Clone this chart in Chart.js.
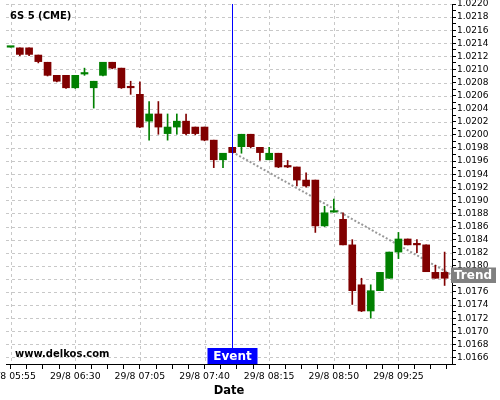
<!DOCTYPE html>
<html>
<head>
<meta charset="utf-8">
<script src="https://cdn.jsdelivr.net/npm/chart.js@4/dist/chart.umd.min.js"></script>
<style>
  html, body { margin: 0; padding: 0; background: #fff; overflow: hidden; }
  #wrap { position: absolute; left: -30px; top: -10px; width: 530px; height: 410px; }
</style>
</head>
<body>
<div id="wrap"><canvas id="candleChart"></canvas></div>
<script>
// 5 minute bars, 29/8
const times = ['05:55', '06:00', '06:05', '06:10', '06:15', '06:20', '06:25', '06:30',
  '06:35', '06:40', '06:45', '06:50', '06:55', '07:00', '07:05', '07:10',
  '07:15', '07:20', '07:25', '07:30', '07:35', '07:40', '07:45', '07:50',
  '07:55', '08:00', '08:05', '08:10', '08:15', '08:20', '08:25', '08:30',
  '08:35', '08:40', '08:45', '08:50', '08:55', '09:00', '09:05', '09:10',
  '09:15', '09:20', '09:25', '09:30', '09:35', '09:40', '09:45', '09:50'];

const opens = [1.02135, 1.02134, 1.02134, 1.02123, 1.02112, 1.02092, 1.02092, 1.02073,
  1.02094, 1.02073, 1.02092, 1.02112, 1.02103, 1.02074, 1.02063, 1.02022,
  1.02033, 1.02003, 1.02013, 1.02022, 1.02013, 1.02013, 1.01993, 1.01963,
  1.01982, 1.01983, 1.02002, 1.01982, 1.01963, 1.01973, 1.01953, 1.01952,
  1.01932, 1.01932, 1.01862, 1.01883, 1.01872, 1.01833, 1.01772, 1.01732,
  1.01763, 1.01782, 1.01822, 1.01842, 1.01834, 1.01833, 1.01791, 1.01791];
const highs = [1.02136, 1.02134, 1.02134, 1.02123, 1.02112, 1.02092, 1.02092, 1.02092,
  1.02103, 1.02083, 1.02112, 1.02112, 1.02103, 1.02083, 1.02082, 1.02052,
  1.02052, 1.02033, 1.02033, 1.02033, 1.02013, 1.02013, 1.01993, 1.01973,
  1.01982, 1.02002, 1.02002, 1.01982, 1.01982, 1.01973, 1.01962, 1.01952,
  1.01943, 1.01932, 1.01892, 1.01903, 1.01882, 1.01841, 1.01782, 1.01772,
  1.01791, 1.01822, 1.01852, 1.01842, 1.01841, 1.01833, 1.01802, 1.01822];
const lows = [1.02135, 1.02122, 1.02122, 1.02111, 1.02091, 1.02082, 1.02072, 1.02072,
  1.02092, 1.02042, 1.02091, 1.02102, 1.02072, 1.02063, 1.02012, 1.01993,
  1.02002, 1.01993, 1.02002, 1.02001, 1.02001, 1.01992, 1.01951, 1.01951,
  1.01974, 1.01973, 1.01981, 1.01962, 1.01963, 1.01951, 1.01951, 1.01923,
  1.01921, 1.01852, 1.01861, 1.01883, 1.01833, 1.01742, 1.01731, 1.01721,
  1.01763, 1.01782, 1.01812, 1.01833, 1.01821, 1.01792, 1.01782, 1.01771];
const closes = [1.02136, 1.02124, 1.02124, 1.02113, 1.02092, 1.02083, 1.02073, 1.02092,
  1.02095, 1.02083, 1.02112, 1.02103, 1.02073, 1.02073, 1.02013, 1.02033,
  1.02013, 1.02013, 1.02022, 1.02003, 1.02003, 1.01993, 1.01963, 1.01973,
  1.01974, 1.02002, 1.01983, 1.01974, 1.01973, 1.01952, 1.01952, 1.01932,
  1.01923, 1.01862, 1.01882, 1.01884, 1.01833, 1.01763, 1.01732, 1.01763,
  1.01791, 1.01822, 1.01842, 1.01833, 1.01833, 1.01792, 1.01782, 1.01782];

// event marker and trend line (bar index units)
const eventIndex = 24;
const trendX = [24, 47.8];
const trendY = [1.01975, 1.01787];

const UP = '#008000';
const DOWN = '#800000';
const GRID = '#c8c8c8';
const FONT = 'DejaVu Sans';

const candleColors = opens.map((o, i) => closes[i] >= o ? UP : DOWN);
const bodies = opens.map((o, i) => ({ x: i, y: [o, closes[i]] }));
const wicks = opens.map((o, i) => ({ x: i, y: [lows[i], highs[i]] }));
const trend = trendX.map((x, i) => ({ x: x, y: trendY[i] }));

const isMajorX = (v) => Math.abs(v % 7) < 1e-6;
const isMajorY = (v) => Math.round(v * 10000) % 2 === 0;

const overlay = {
  id: 'overlay',
  beforeDatasetsDraw(chart) {
    // dashed grid at the labelled ticks only
    const { ctx, chartArea: a, scales: { x, y } } = chart;
    ctx.save();
    ctx.strokeStyle = GRID;
    ctx.lineWidth = 1;
    ctx.setLineDash([3, 3]);
    ctx.beginPath();
    x.ticks.forEach(t => {
      if (!isMajorX(t.value)) return;
      const px = Math.round(x.getPixelForValue(t.value)) + 0.5;
      ctx.moveTo(px, a.top);
      ctx.lineTo(px, a.bottom);
    });
    y.ticks.forEach(t => {
      if (!isMajorY(t.value)) return;
      const py = Math.round(y.getPixelForValue(t.value)) + 0.5;
      ctx.moveTo(a.left, py);
      ctx.lineTo(a.right, py);
    });
    ctx.stroke();
    ctx.restore();
  },
  afterDatasetsDraw(chart) {
    const { ctx, chartArea, scales: { x } } = chart;
    const ex = Math.round(x.getPixelForValue(eventIndex)) + 0.5;
    ctx.save();
    ctx.strokeStyle = '#0000ff';
    ctx.lineWidth = 1;
    ctx.beginPath();
    ctx.moveTo(ex, chartArea.top);
    ctx.lineTo(ex, chartArea.bottom);
    ctx.stroke();
    ctx.restore();
  },
  afterDraw(chart) {
    const { ctx, chartArea, scales: { x, y } } = chart;
    ctx.save();
    ctx.fillStyle = '#000';
    ctx.textBaseline = 'alphabetic';
    ctx.font = 'bold 10px "' + FONT + '"';
    ctx.fillText('6S 5 (CME)', chartArea.left + 4, chartArea.top + 15);
    ctx.fillText('www.delkos.com', chartArea.left + 9, chartArea.bottom - 7);

    // Event box on the bottom axis
    const ex = Math.round(x.getPixelForValue(eventIndex)) + 0.5;
    ctx.fillStyle = '#0000ff';
    ctx.fillRect(ex - 25, chartArea.bottom - 16, 50, 16);
    ctx.fillStyle = '#fff';
    ctx.font = 'bold 12px "' + FONT + '"';
    ctx.textAlign = 'center';
    ctx.textBaseline = 'middle';
    ctx.fillText('Event', ex, chartArea.bottom - 7.5);

    // Trend box on the price axis
    const ty = y.getPixelForValue(trendY[trendY.length - 1]);
    ctx.fillStyle = '#808080';
    ctx.fillRect(chartArea.right - 1, ty - 7.5, 45, 15.5);
    ctx.fillStyle = '#fff';
    ctx.textAlign = 'left';
    ctx.fillText('Trend', chartArea.right + 2, ty + 0.5);
    ctx.restore();
  }
};

const ctx = document.getElementById('candleChart').getContext('2d');
const candleChart = new Chart(ctx, {
  type: 'bar',
  data: {
    datasets: [
      {
        type: 'line',
        data: trend,
        borderColor: '#999999',
        borderWidth: 2,
        borderDash: [2, 2],
        pointRadius: 0,
        order: 3
      },
      {
        data: wicks,
        backgroundColor: candleColors,
        barThickness: 1,
        grouped: false,
        order: 2
      },
      {
        data: bodies,
        backgroundColor: candleColors,
        barThickness: 7,
        minBarLength: 1.5,
        grouped: false,
        order: 1
      }
    ]
  },
  options: {
    responsive: true,
    maintainAspectRatio: false,
    animation: false,
    layout: { padding: { left: 36, top: 14, right: 0, bottom: 0 } },
    plugins: { legend: { display: false }, tooltip: { enabled: false } },
    scales: {
      x: {
        type: 'linear',
        offset: false,
        min: -0.5,
        max: 47.8,
        afterFit(scale) { scale.height = 36; },
        ticks: {
          stepSize: 1.75,
          autoSkip: false,
          maxRotation: 0,
          includeBounds: false,
          padding: 2,
          color: '#000',
          font: { family: FONT, size: 9.3 },
          callback: (v) => (isMajorX(v) && times[v]) ? '29/8 ' + times[v] : ''
        },
        grid: {
          offset: false,
          drawOnChartArea: false,
          tickColor: '#000',
          tickLength: 5
        },
        border: { color: '#000' },
        title: {
          display: true,
          text: 'Date',
          color: '#000',
          font: { family: FONT, size: 11.5, weight: 'bold' },
          padding: { top: 0, bottom: 2 }
        }
      },
      y: {
        position: 'right',
        min: 1.01651,
        max: 1.02201,
        afterFit(scale) { scale.width = 48; },
        ticks: {
          stepSize: 0.0001,
          autoSkip: false,
          includeBounds: false,
          padding: 1,
          color: '#000',
          font: { family: FONT, size: 9 },
          callback: (v) => isMajorY(v) ? v.toFixed(4) : ''
        },
        grid: {
          drawOnChartArea: false,
          tickColor: '#000',
          tickLength: 4
        },
        border: { color: '#000' }
      }
    }
  },
  plugins: [overlay]
});
</script>
</body>
</html>
